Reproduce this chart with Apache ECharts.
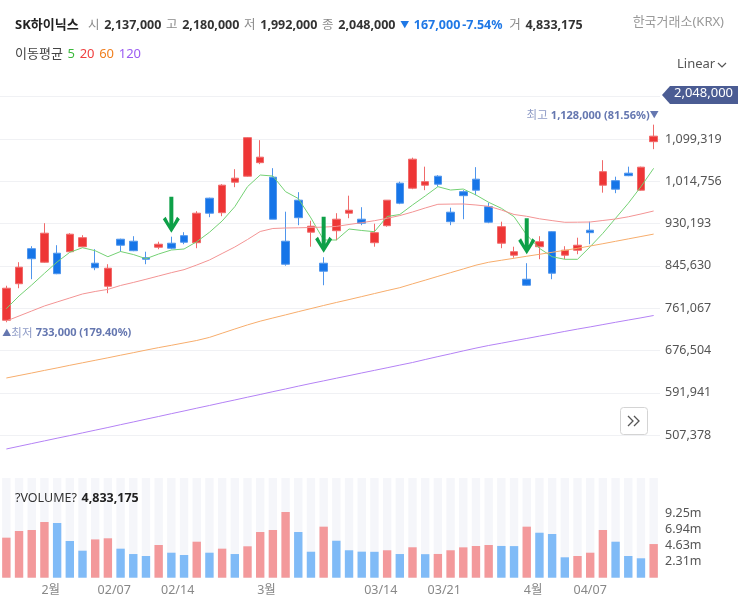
<!DOCTYPE html>
<html>
<head>
<meta charset="utf-8">
<script src="https://cdn.jsdelivr.net/npm/echarts@6/dist/echarts.min.js"></script>
<style>
  html, body { margin: 0; padding: 0; background: #fff; }
  #chart { width: 738px; height: 600px; }
</style>
</head>
<body>
<div id="chart"></div>
<script>
// 일봉 시가/종가/저가/고가 (원)
const openP = [737000, 810000, 880000, 853000, 871000, 874000, 884000, 851000, 805000, 899000, 895000, 862000, 883000, 891000, 906000, 892000, 981000, 952000, 1013000, 1025000, 1052000, 1023000, 895000, 977000, 913000, 851000, 916000, 951000, 939000, 892000, 926000, 1011000, 1001000, 1007000, 1025000, 953000, 994000, 1019000, 964000, 891000, 867000, 819000, 884000, 914000, 867000, 877000, 917000, 1007000, 1016000, 1031000, 997000, 1094000]
const closeP = [801000, 843000, 860000, 911000, 830000, 909000, 902000, 842000, 841000, 887000, 876000, 859000, 889000, 881000, 893000, 951000, 951000, 1007000, 1021000, 1102000, 1063000, 939000, 849000, 942000, 925000, 835000, 939000, 957000, 931000, 912000, 977000, 971000, 1059000, 1014000, 1009000, 934000, 986000, 997000, 933000, 924000, 874000, 807000, 894000, 831000, 877000, 887000, 912000, 1034000, 999000, 1026000, 1043000, 1105000]
const lowP = [733000, 801000, 819000, 852000, 829000, 873000, 883000, 837000, 791000, 874000, 875000, 849000, 879000, 879000, 889000, 881000, 943000, 945000, 1003000, 1024000, 1049000, 939000, 846000, 927000, 884000, 807000, 897000, 941000, 927000, 884000, 924000, 969000, 999000, 997000, 1004000, 927000, 939000, 987000, 931000, 881000, 862000, 806000, 859000, 819000, 859000, 869000, 889000, 992000, 991000, 1025000, 996000, 1079000]
const highP = [806000, 853000, 885000, 931000, 887000, 911000, 907000, 879000, 849000, 900000, 905000, 874000, 894000, 904000, 913000, 955000, 982000, 1009000, 1039000, 1103000, 1097000, 1041000, 954000, 993000, 936000, 863000, 951000, 986000, 963000, 930000, 977000, 1014000, 1062000, 1044000, 1027000, 962000, 997000, 1043000, 972000, 934000, 884000, 851000, 905000, 915000, 885000, 902000, 934000, 1057000, 1024000, 1044000, 1044000, 1128000]
const volume = [5750000, 6710000, 6850000, 8000000, 7860000, 5270000, 3880000, 5500000, 5660000, 4170000, 3400000, 3120000, 4700000, 3590000, 3260000, 5170000, 3590000, 4170000, 3400000, 4510000, 6560000, 6850000, 9440000, 6560000, 3730000, 7330000, 5310000, 3940000, 3740000, 3720000, 3940000, 3400000, 4370000, 3380000, 3410000, 3940000, 4360000, 4550000, 4700000, 4560000, 4540000, 7330000, 6460000, 6280000, 2930000, 3120000, 3590000, 6850000, 5170000, 3120000, 2790000, 4833175]

// 이동평균선
const ma5 = [760100, 785500, 807500, 830800, 853400, 872800, 882000, 876000, 864000, 874400, 868400, 860000, 869400, 877400, 879400, 894000, 912800, 935400, 964000, 1004000, 1027300, 1025300, 994000, 980400, 941400, 897400, 897400, 919400, 916400, 914000, 944400, 948400, 967400, 985400, 1004000, 997300, 999300, 987400, 972800, 960800, 944000, 907400, 880800, 864000, 858800, 858800, 884000, 910800, 940800, 970800, 1004000, 1040700]
const ma20 = [735500, 745500, 755500, 765500, 773500, 781500, 789500, 794500, 798700, 806500, 812500, 818900, 825500, 832100, 838100, 847400, 857400, 870400, 883400, 898400, 914400, 920400, 921400, 921800, 922400, 923200, 924600, 928400, 932000, 936000, 940800, 946200, 953400, 961400, 968800, 969200, 969400, 967400, 964800, 957400, 948400, 944800, 939800, 936200, 932800, 933000, 933400, 936400, 939400, 943800, 949400, 955400]
const ma60 = [621500, 626500, 631500, 636700, 641700, 646900, 651900, 656900, 661900, 667100, 672100, 677300, 682300, 686900, 691700, 696500, 702700, 711100, 719500, 727700, 735100, 741500, 747700, 754100, 760300, 766500, 772500, 778300, 784300, 790300, 796300, 802100, 809700, 817100, 824700, 832100, 839500, 847100, 852900, 856900, 860900, 864900, 868800, 872800, 876800, 880800, 885400, 890000, 894800, 899600, 904400, 909200]
const ma120 = [479600, 485000, 490400, 495800, 501200, 506400, 511800, 517200, 522600, 528200, 533600, 539200, 544600, 550200, 555600, 561200, 566600, 572200, 577600, 583200, 588600, 594200, 599600, 605200, 610600, 615800, 621100, 626300, 631600, 636800, 642000, 647300, 652500, 658500, 664300, 669900, 675700, 681300, 686500, 691100, 695900, 700500, 705300, 709900, 714700, 719300, 723700, 728300, 732900, 737400, 741800, 746500]

// x축 라벨 (봉 인덱스 기준 위치)
const tickPos = [3.5, 8.5, 13.5, 20.5, 29.5, 34.5, 41.5, 46]
const tickText = ['2월', '02/07', '02/14', '3월', '03/14', '03/21', '4월', '04/07']

// 화살표 표시 위치 [봉 인덱스, 화살표 끝 가격]
const arrowIdx = [13, 25, 41]
const arrowVal = [912000, 872000, 869000]

const curPrice = 2048000
const FONT = '"Noto Sans", "Noto Sans CJK KR", sans-serif'

const chart = echarts.init(document.getElementById('chart'))
const cats = closeP.map((_, i) => String(i))
const candles = openP.map((o, i) => [o, closeP[i], lowP[i], highP[i]])
const fmt = v => Math.round(v).toLocaleString('en-US')

// 최고/최저
const hiVal = Math.max(...highP)
const hiIdx = highP.indexOf(hiVal)
const loVal = Math.min(...lowP)
const loIdx = lowP.indexOf(loVal)
const hiPct = ((curPrice - hiVal) / hiVal * 100).toFixed(2)
const loPct = ((curPrice - loVal) / loVal * 100).toFixed(2)

// 거래량: 전일 대비 증가 빨강, 감소 파랑
const volData = volume.map((v, i) => ({
  value: v,
  itemStyle: { color: i > 0 && v < volume[i - 1] ? '#80bbf7' : '#f3999b' }
}))

const arrowPath = 'path://M6.5 0 L10.5 0 L10.5 27 L14.2 20 L17 22.5 L8.5 36 L0 22.5 L2.8 20 L6.5 27 Z'

const maLine = (name, data, color) => ({
  name,
  type: 'line',
  xAxisIndex: 0,
  yAxisIndex: 0,
  data,
  showSymbol: false,
  silent: true,
  lineStyle: { color, width: 1 }
})

const markRich = {
  a: { fontSize: 11.5, color: '#8e9bc6', fontFamily: FONT },
  b: { fontSize: 11, color: '#6577b0', fontWeight: 'bold', fontFamily: FONT },
  c: { fontSize: 9, color: '#6577b0', fontFamily: FONT }
}

const option = {
  animation: false,
  textStyle: { fontFamily: FONT },
  title: [
    {
      left: 10, top: 11,
      text: '{n|SK하이닉스}  {g|시} {v|2,137,000} {g|고} {v|2,180,000} {g|저} {v|1,992,000} {g|종} {v|2,048,000} {t|▼} {d|167,000}{d|-7.54%} {g|거} {v|4,833,175}',
      textStyle: {
        fontWeight: 'normal',
        rich: {
          n: { fontSize: 13, fontWeight: 'bold', color: '#222', fontFamily: FONT },
          g: { fontSize: 12.5, fontWeight: 'normal', color: '#8a8a8a', fontFamily: FONT },
          v: { fontSize: 12.5, fontWeight: 'bold', color: '#333', fontFamily: FONT },
          t: { fontSize: 9, fontWeight: 'normal', color: '#1f78e6', fontFamily: FONT },
          d: { fontSize: 12.5, fontWeight: 'bold', color: '#1f78e6', fontFamily: FONT, padding: [0, 2, 0, 0] }
        }
      }
    },
    {
      right: 9, top: 11,
      text: '한국거래소(KRX)',
      textStyle: { fontSize: 13, color: '#999', fontWeight: 'normal', fontFamily: FONT }
    },
    {
      left: 10, top: 40,
      text: '{t|이동평균} {a|5} {b|20} {c|60} {d|120}',
      textStyle: {
        fontWeight: 'normal',
        rich: {
          t: { fontSize: 13, color: '#444', fontFamily: FONT },
          a: { fontSize: 13, color: '#3cb93c', fontFamily: FONT },
          b: { fontSize: 13, color: '#f04040', fontFamily: FONT },
          c: { fontSize: 13, color: '#f08020', fontFamily: FONT },
          d: { fontSize: 13, color: '#9b5cf2', fontFamily: FONT }
        }
      }
    },
    {
      left: 10, top: 484,
      text: '{t|?VOLUME?} {v|4,833,175}',
      textStyle: {
        fontWeight: 'normal',
        rich: {
          t: { fontSize: 12.5, color: '#333', fontWeight: 'normal', fontFamily: FONT },
          v: { fontSize: 12.5, color: '#222', fontWeight: 'bold', fontFamily: FONT }
        }
      }
    }
  ],
  grid: [
    { left: -6.4, right: 78, top: 96.7, height: 380.7 },
    { left: -6.4, right: 78, top: 478, height: 99.7 }
  ],
  xAxis: [
    { type: 'category', gridIndex: 0, data: cats, show: false },
    { type: 'category', gridIndex: 1, data: cats, show: false, position: 'top' },
    {
      type: 'value', gridIndex: 1, position: 'bottom', min: -0.5, max: cats.length - 0.5,
      axisLine: { show: false }, axisTick: { show: false }, splitLine: { show: false },
      axisLabel: {
        customValues: tickPos,
        formatter: v => tickText[tickPos.indexOf(v)] || '',
        color: '#888', fontSize: 12.5, margin: 6, fontFamily: FONT
      }
    }
  ],
  yAxis: [
    {
      type: 'value', gridIndex: 0, position: 'right',
      min: 422815, max: 1183882, interval: 84563,
      axisLine: { show: false }, axisTick: { show: false },
      axisLabel: {
        color: '#555', fontSize: 12.5, margin: 5, fontFamily: FONT,
        formatter: v => (v < 500000 || v > 1150000) ? '' : fmt(v)
      },
      splitLine: {
        lineStyle: {
          color: ['rgba(0,0,0,0)', '#f0f1f4', '#f0f1f4', '#f0f1f4', '#f0f1f4', '#f0f1f4', '#f0f1f4', '#f0f1f4', '#f0f1f4', '#f0f1f4'],
          width: 1
        }
      }
    },
    {
      type: 'value', gridIndex: 1, position: 'right',
      min: 0, max: 14320000, interval: 2313000,
      axisLine: { show: false }, axisTick: { show: false }, splitLine: { show: false },
      axisLabel: {
        color: '#555', fontSize: 12.5, margin: 5, fontFamily: FONT,
        formatter: v => (v > 0 && v < 9300000) ? (v / 1e6).toFixed(2) + 'm' : ''
      }
    }
  ],
  series: [
    {
      name: '일봉',
      type: 'candlestick',
      xAxisIndex: 0,
      yAxisIndex: 0,
      data: candles,
      barWidth: 8,
      itemStyle: {
        color: '#ee3636',
        color0: '#1675e8',
        borderColor: '#f06a6a',
        borderColor0: '#4f95ec',
        borderWidth: 1
      },
      markPoint: {
        silent: true,
        data: [
          {
            coord: [hiIdx, hiVal], symbol: 'circle', symbolSize: 0,
            label: {
              show: true, position: 'left', distance: 0, offset: [5, -9],
              formatter: '{a|최고} {b|' + fmt(hiVal) + ' (' + hiPct + '%)}{c|▼}',
              rich: markRich
            }
          },
          {
            coord: [loIdx, loVal], symbol: 'circle', symbolSize: 0,
            label: {
              show: true, position: 'right', distance: 0, offset: [-4, 11],
              formatter: '{c|▲}{a|최저} {b|' + fmt(loVal) + ' (' + loPct + '%)}',
              rich: markRich
            }
          }
        ].concat(arrowIdx.map((k, i) => ({
          coord: [k, arrowVal[i]],
          symbol: arrowPath,
          symbolSize: [17, 36],
          symbolOffset: [0, '-50%'],
          itemStyle: { color: '#0ea048' },
          label: { show: false }
        })))
      }
    },
    maLine('MA5', ma5, '#74d174'),
    maLine('MA20', ma20, '#f39494'),
    maLine('MA60', ma60, '#f7ad6c'),
    maLine('MA120', ma120, '#b482f5'),
    {
      name: '거래량',
      type: 'bar',
      xAxisIndex: 1,
      yAxisIndex: 1,
      data: volData,
      barWidth: '66%',
      showBackground: true,
      backgroundStyle: { color: '#f5f6fa' }
    }
  ],
  graphic: [
    {
      type: 'text', left: 677, top: 58,
      style: { text: 'Linear', fontSize: 13, fill: '#555', fontFamily: FONT }
    },
    {
      type: 'polyline', shape: { points: [[718, 63], [722, 67], [726, 63]] },
      style: { stroke: '#555', lineWidth: 1.2, fill: null }
    },
    {
      type: 'polygon',
      shape: { points: [[662, 95], [670, 86], [738, 86], [738, 104], [670, 104]] },
      style: { fill: '#4b5c93' }
    },
    {
      type: 'text', left: 674, top: 87,
      style: { text: fmt(curPrice), fontSize: 13, fill: '#fff', fontFamily: FONT }
    },
    {
      type: 'rect', shape: { x: 620.5, y: 407.5, width: 27, height: 27, r: 3 },
      style: { fill: '#fff', stroke: '#d4d4d4', lineWidth: 1 }
    },
    {
      type: 'polyline', shape: { points: [[628, 416], [633, 421], [628, 426]] },
      style: { stroke: '#555', lineWidth: 1.3, fill: null }
    },
    {
      type: 'polyline', shape: { points: [[634, 416], [639, 421], [634, 426]] },
      style: { stroke: '#555', lineWidth: 1.3, fill: null }
    }
  ]
}

chart.setOption(option)
</script>
</body>
</html>
